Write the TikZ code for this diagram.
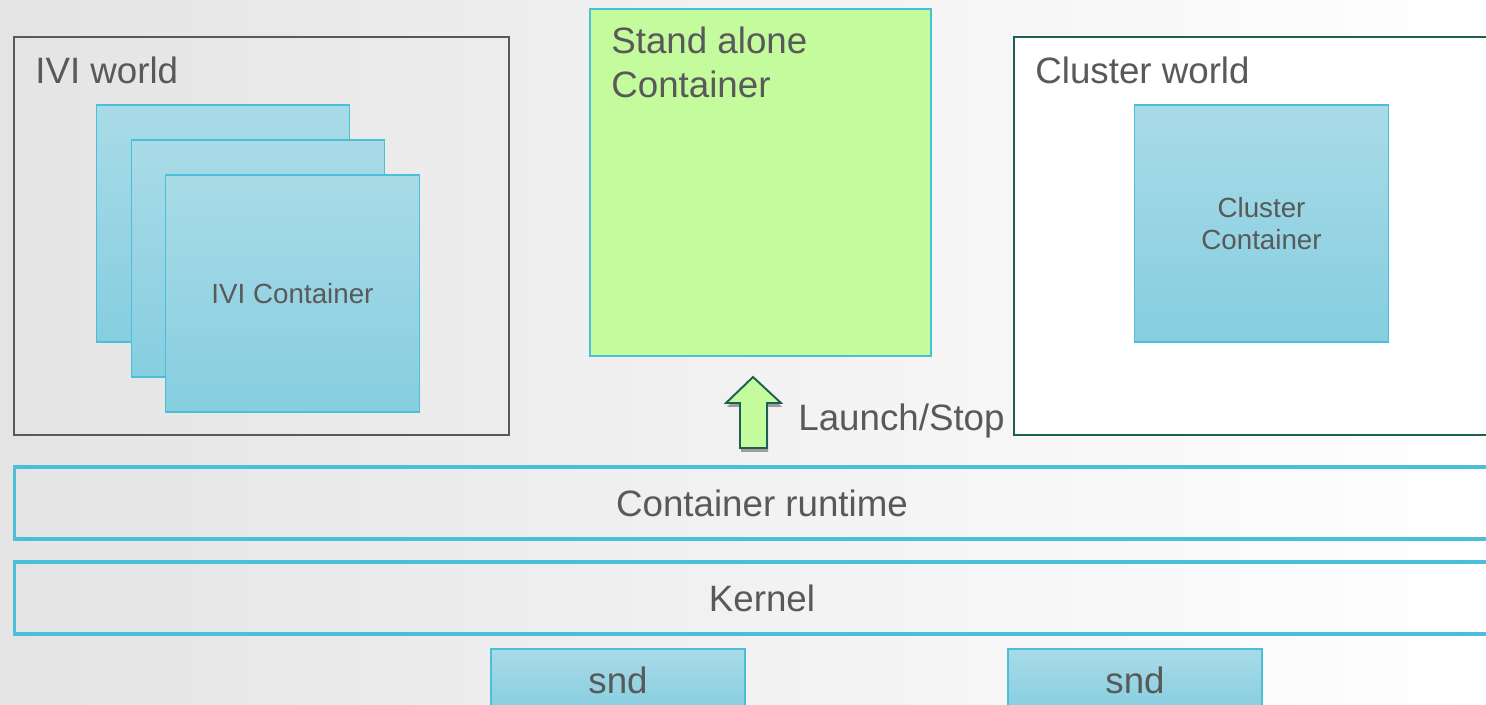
\documentclass[tikz,border=0pt]{standalone}
\usepackage{fontspec}
\setmainfont{Liberation Sans}
\usetikzlibrary{shadows}
\definecolor{txt}{HTML}{595959}
\definecolor{grayline}{HTML}{595959}
\definecolor{teal}{HTML}{1D5F55}
\definecolor{cyanline}{HTML}{4BBFD7}
\definecolor{contTop}{HTML}{A9DBE7}
\definecolor{contBot}{HTML}{86CEE0}
\definecolor{green}{HTML}{C4FB9C}
\definecolor{bggray}{HTML}{E4E4E4}
\tikzset{
  big/.style={font=\fontsize{20.9}{24.9}\selectfont, text=txt},
  small/.style={font=\fontsize{15.8}{18.7}\selectfont, text=txt},
  world/.style={draw, line width=1.2pt, rectangle, inner sep=0pt},
  cont/.style={rectangle, draw=cyanline, line width=0.8pt, top color=contTop, bottom color=contBot,
    minimum width=5.07cm, minimum height=4.74cm, inner sep=0pt, small, align=center},
  layer/.style={rectangle, draw=cyanline, line width=1.8pt, minimum width=29.92cm, minimum height=1.44cm, big, inner sep=0pt},
  sndbox/.style={rectangle, draw=cyanline, line width=0.8pt, top color=contTop, bottom color=contBot,
    minimum width=5.08cm, minimum height=1.26cm, big, inner sep=0pt},
}
\begin{document}
\begin{tikzpicture}[x=0.02cm, y=-0.02cm]
\useasboundingbox (0,0) rectangle (1486,704);
\clip (0,0) rectangle (1486,704);
\shade[left color=bggray, right color=white] (0,0) rectangle (1486,704);

% IVI world
\node[world, draw=grayline, minimum width=9.9cm, minimum height=7.96cm] (iviworld) at (261.5,236) {};
\node[big, anchor=west, inner sep=0pt] (ivilabel) at (35,70) {IVI world};
\node[cont] (ivi1) at (223,223.5) {};
\node[cont] (ivi2) at (258,258.5) {};
\node[cont] (ivi3) at (292.5,293.5) {IVI Container};

% Stand alone container
\node[rectangle, draw=cyanline, line width=1.2pt, fill=green, minimum width=6.82cm, minimum height=6.94cm, inner sep=0pt] (standalone) at (760.5,182.5) {};
\node[big, anchor=north west, align=left, inner sep=0pt] (salabel) at (611,27) {Stand alone\\Container};

% Cluster world
\node[world, draw=teal, fill=white, minimum width=9.64cm, minimum height=7.96cm] (clusterworld) at (1255,236) {};
\node[big, anchor=west, inner sep=0pt] (cllabel) at (1035,70) {Cluster world};
\node[cont] (clustercont) at (1261.5,223.5) {Cluster\\Container};

% Layers
\node[layer] (runtime) at (762,503) {Container runtime};
\node[layer] (kernel) at (762,598) {Kernel};
\node[sndbox] (snd1) at (618,680.5) {snd};
\node[sndbox] (snd2) at (1135,680.5) {snd};

% Launch/Stop arrow
\draw[draw=teal, line width=1.1pt, fill=green, line join=miter,
  drop shadow={shadow xshift=0.6pt, shadow yshift=-2.2pt, opacity=0.35, fill=black}]
  (740,448) -- (740,403) -- (726,403) -- (753,377) -- (781,403) -- (767,403) -- (767,448) -- cycle;
\node[big, anchor=west, inner sep=0pt] (launch) at (798,421) {Launch/Stop};
\end{tikzpicture}
\end{document}
